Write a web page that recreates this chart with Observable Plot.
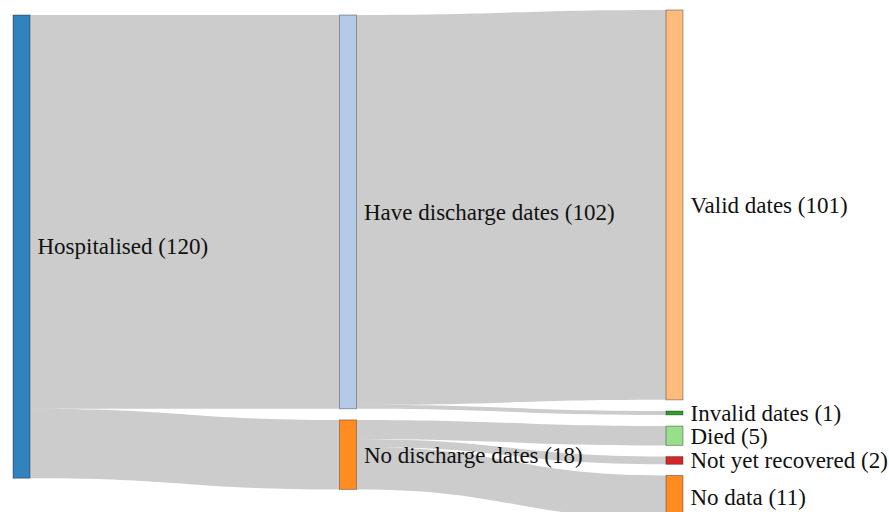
<!DOCTYPE html>
<html>
<head>
<meta charset="utf-8">
<script src="https://cdn.jsdelivr.net/npm/d3@7"></script>
<script src="https://cdn.jsdelivr.net/npm/@observablehq/plot@0.6"></script>
</head>
<body style="margin:0;background:#fff">
<div id="chart"></div>
<script>
// ---- data ----
const nodeNames = ["Hospitalised", "Have discharge dates", "No discharge dates", "Valid dates", "Invalid dates", "Died", "Not yet recovered", "No data"];
const nodeColumns = [0, 1, 1, 2, 2, 2, 2, 2];
const nodeColors = ["#3182bd", "#b3cbe9", "#ff8c21", "#ffbb7c", "#2ca02c", "#98df8a", "#d62728", "#ff8c21"];
const linkSources = [0, 0, 1, 1, 2, 2, 2];
const linkTargets = [1, 2, 3, 4, 5, 6, 7];
const linkValues = [102, 18, 101, 1, 5, 2, 11];

// ---- layout (in data units) ----
const pad = 2.9;                 // gap between nodes in a column
const colTop = [0, 0, -1.3];     // top of each column
const nodeW = 0.052;             // node width in column units

const nodes = nodeNames.map((name, i) => {
  const inV = d3.sum(linkValues.filter((v, j) => linkTargets[j] === i));
  const outV = d3.sum(linkValues.filter((v, j) => linkSources[j] === i));
  return {i, name, col: nodeColumns[i], color: nodeColors[i], value: Math.max(inV, outV)};
});
const cursor = colTop.slice();
for (const n of nodes) {
  n.y0 = cursor[n.col];
  n.y1 = n.y0 + n.value;
  cursor[n.col] = n.y1 + pad;
  n.label = `${n.name} (${n.value})`;
}
const links = linkValues.map((v, j) => ({j, s: nodes[linkSources[j]], t: nodes[linkTargets[j]], value: v}));
const outOff = nodes.map(n => n.y0), inOff = nodes.map(n => n.y0);
for (const l of links.slice().sort((a, b) => a.t.y0 - b.t.y0)) {
  l.sy0 = outOff[l.s.i]; l.sy1 = l.sy0 + l.value; outOff[l.s.i] = l.sy1;
}
for (const l of links.slice().sort((a, b) => a.s.y0 - b.s.y0)) {
  l.ty0 = inOff[l.t.i]; l.ty1 = l.ty0 + l.value; inOff[l.t.i] = l.ty1;
}
const linkPts = links.flatMap(l => [
  {id: l.j, x: l.s.col + nodeW, y1: l.sy0, y2: l.sy1},
  {id: l.j, x: l.t.col, y1: l.ty0, y2: l.ty1}
]);

const k = 3.86; // px per unit
const chart = Plot.plot({
  width: 889,
  height: 512,
  marginTop: 0, marginBottom: 0, marginLeft: 0, marginRight: 0,
  x: {domain: [0, 2], range: [13, 666], axis: null},
  y: {domain: [-15 / k, (512 - 15) / k], range: [0, 512], axis: null},
  marks: [
    Plot.area(linkPts, {x1: "x", y1: "y1", y2: "y2", z: "id", curve: "bump-x", fill: "black", fillOpacity: 0.2}),
    Plot.rect(nodes, {x1: d => d.col, x2: d => d.col + nodeW, y1: "y0", y2: "y1", fill: "color", stroke: "#000", strokeOpacity: 0.35, strokeWidth: 1}),
    Plot.text(nodes, {x: d => d.col + nodeW, y: d => (d.y0 + d.y1) / 2, text: "label", dx: 7, textAnchor: "start", fontSize: 23, fill: "#111", fontFamily: "Liberation Serif"})
  ]
});
d3.select(chart).selectAll("text").attr("font-family", "Liberation Serif").style("font-family", "Liberation Serif");
document.getElementById("chart").append(chart);
</script>
</body>
</html>
